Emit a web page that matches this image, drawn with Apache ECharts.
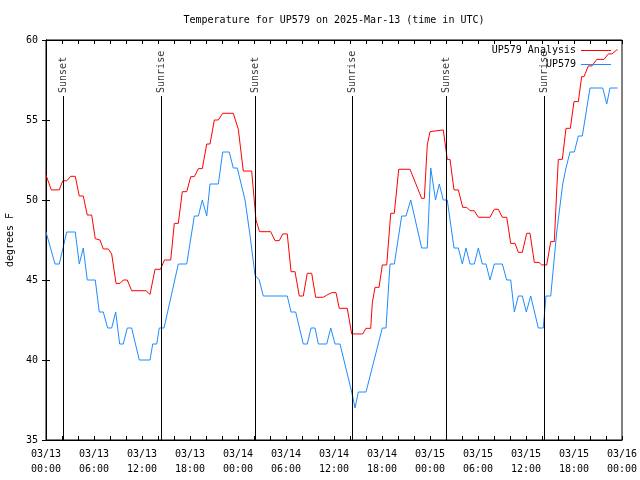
<!DOCTYPE html>
<html><head><meta charset="utf-8">
<script src="https://cdn.jsdelivr.net/npm/echarts@6/dist/echarts.min.js"></script>
<style>html,body{margin:0;padding:0;background:#fff}#c{width:640px;height:480px}</style>
</head><body><div id="c"></div>
<script>
const FONT = '"DejaVu Sans Mono", "Liberation Mono", monospace';

// hours since 2025-03-13 00:00 UTC
const analysisHours = [0,0.66,1.66,2.09,2.59,3.09,3.66,4.16,4.66,5.16,5.71,6.16,6.75,7.16,7.79,8.21,8.75,9.25,9.66,10.16,10.71,12.5,13.0,13.63,14.31,14.81,15.59,16.04,16.54,17.04,17.59,18.09,18.54,19.04,19.54,20.09,20.5,21.04,21.54,22.09,23.41,24.04,24.66,25.71,26.25,26.69,28.09,28.63,29.16,29.59,30.16,30.63,31.13,31.66,32.16,32.66,33.21,33.71,34.66,35.09,35.71,36.25,36.66,37.66,38.21,39.59,40.0,40.59,40.79,41.0,41.13,41.63,42.04,42.59,43.09,43.54,44.09,45.5,46.96,47.29,47.66,48.0,49.66,50.16,50.5,51.0,51.54,52.09,52.59,53.0,53.54,54.04,55.5,56.04,56.54,57.04,57.59,58.09,58.63,59.04,59.54,60.09,60.5,61.04,61.63,61.96,62.59,63.09,63.54,63.84,64.04,64.54,65.0,65.54,66.0,66.54,66.96,67.25,67.79,68.25,68.84,69.75,70.29,70.75,71.34,71.46];
const analysisTemps = [51.56,50.63,50.63,51.2,51.2,51.48,51.48,50.25,50.25,49.06,49.06,47.58,47.5,46.94,46.94,46.63,44.79,44.79,45.0,45.0,44.33,44.33,44.1,45.67,45.67,46.25,46.25,48.54,48.54,50.52,50.52,51.46,51.46,51.96,51.96,53.5,53.5,55.0,55.0,55.42,55.42,54.42,51.81,51.81,48.75,48.02,48.02,47.46,47.46,47.88,47.88,45.52,45.52,44.0,44.0,45.42,45.42,43.92,43.92,44.05,44.21,44.21,43.23,43.23,41.63,41.63,41.98,41.98,43.58,43.58,44.54,44.54,45.94,45.94,49.17,49.17,51.92,51.92,50.1,50.1,53.44,54.27,54.38,52.54,52.54,50.63,50.63,49.54,49.54,49.33,49.33,48.92,48.92,49.42,49.42,48.92,48.92,47.29,47.29,46.73,46.73,47.92,47.92,46.1,46.1,45.94,45.94,47.4,47.4,50.63,52.54,52.54,54.48,54.48,56.15,56.15,57.71,57.71,58.38,58.38,58.79,58.79,59.13,59.13,59.38,59.38];

const obsHours = [0,1.13,1.66,2.59,3.66,4.16,4.66,5.16,6.16,6.66,7.16,7.71,8.21,8.71,9.21,9.66,10.16,10.71,11.66,13.0,13.34,13.84,14.16,14.75,16.54,17.59,18.54,19.04,19.54,20.09,20.5,21.54,22.09,22.91,23.41,23.91,24.88,25.5,26.13,26.66,27.16,30.16,30.63,31.21,32.16,32.66,33.13,33.63,34.04,35.09,35.59,36.13,36.75,38.21,38.63,39.04,40.0,42.04,42.5,43.0,43.54,44.46,45.0,45.59,46.96,47.66,48.09,48.69,49.16,49.66,50.16,51.0,51.54,52.04,52.5,53.0,53.54,54.04,54.54,55.0,55.5,56.04,57.04,57.59,58.09,58.54,59.04,59.54,60.04,60.59,61.54,62.16,62.5,63.09,63.84,64.59,65.0,65.5,66.04,66.54,67.04,68.0,69.59,70.09,70.5,71.46];
const obsTemps = [48,46,46,48,48,46,47,45,45,43,43,42,42,43,41,41,42,42,40,40,41,41,42,42,46,46,49,49,50,49,51,51,53,53,52,52,50,47.8,45.3,45,44,44,43,43,41,41,42,42,41,41,42,41,41,38,37,38,38,42,42,46,46,49,49,50,47,47,52,50,51,50,50,47,47,46,47,46,46,47,46,46,45,46,46,45,45,43,44,44,43,44,42,42,44,44,48,51,52,53,53,54,54,57,57,56,57,57];

const sunsetHours = [2.17, 26.17, 50.0];
const sunriseHours = [14.42, 38.29, 62.29];

function pairs(xs, ys) { return xs.map((x, i) => [x, ys[i]]); }
function timeLabel(v) {
  if (v % 6 !== 0) return '';
  const day = 13 + Math.floor(v / 24);
  const hr = v % 24;
  return '03/' + String(day).padStart(2, '0') + '\n' + String(hr).padStart(2, '0') + ':00';
}
const LABEL_Y = 56.69, LINE_TOP = 56.5;
function eventSeries(name, hours) {
  return {
    name: name, type: 'scatter', symbolSize: 1, silent: true,
    itemStyle: { color: 'transparent' },
    data: hours.map(h => [h, LABEL_Y]),
    label: { show: true, formatter: name, position: 'inside', rotate: 90, align: 'left', verticalAlign: 'middle',
             fontFamily: FONT, fontSize: 10, color: '#000' },
    markLine: { silent: true, symbol: ['none', 'none'], animation: false,
      lineStyle: { color: '#000', width: 1, type: 'solid' }, label: { show: false },
      data: hours.map(h => [{ coord: [h, 35] }, { coord: [h, LINE_TOP] }]) }
  };
}

const chart = echarts.init(document.getElementById('c'));
chart.setOption({
  animation: false,
  backgroundColor: '#fff',
  title: { text: 'Temperature for UP579 on 2025-Mar-13 (time in UTC)', left: 334, top: 15, padding: 0, textAlign: 'center',
           textStyle: { fontFamily: FONT, fontSize: 10, fontWeight: 'normal', color: '#000' } },
  legend: { data: ['UP579 Analysis', 'UP579'], orient: 'vertical', align: 'right', right: 29, top: 45, padding: 0,
            icon: 'rect', itemWidth: 30, itemHeight: 1, itemGap: 3,
            textStyle: { fontFamily: FONT, fontSize: 10, color: '#000', lineHeight: 11 } },
  grid: { left: 46, right: 18, top: 40, bottom: 40, containLabel: false, outerBoundsMode: 'none',
          show: true, borderColor: '#000', borderWidth: 1, backgroundColor: 'transparent' },
  xAxis: [
    { type: 'value', min: 0, max: 72, interval: 2, position: 'bottom',
      axisLine: { show: true, lineStyle: { color: '#000' } },
      axisTick: { show: true, inside: true, length: 4, lineStyle: { color: '#000' } },
      splitLine: { show: false },
      axisLabel: { interval: 0, formatter: timeLabel, fontFamily: FONT, fontSize: 10, color: '#000', lineHeight: 15, margin: 7,
                   showMinLabel: true, showMaxLabel: true } },
    { type: 'value', min: 0, max: 72, interval: 2, position: 'top',
      axisLine: { show: true, lineStyle: { color: '#000' } },
      axisTick: { show: true, inside: true, length: 4, lineStyle: { color: '#000' } },
      splitLine: { show: false }, axisLabel: { show: false } }
  ],
  yAxis: [
    { type: 'value', min: 35, max: 60, interval: 5, position: 'left',
      name: 'degrees F', nameLocation: 'middle', nameGap: 31, nameRotate: 90,
      nameTextStyle: { fontFamily: FONT, fontSize: 10, color: '#000' },
      axisLine: { show: true, lineStyle: { color: '#000' } },
      axisTick: { show: true, inside: true, length: 4, lineStyle: { color: '#000' } },
      splitLine: { show: false },
      axisLabel: { fontFamily: FONT, fontSize: 10, color: '#000', margin: 8 } },
    { type: 'value', min: 35, max: 60, interval: 5, position: 'right',
      axisLine: { show: true, lineStyle: { color: '#000' } },
      axisTick: { show: true, inside: true, length: 4, lineStyle: { color: '#000' } },
      splitLine: { show: false }, axisLabel: { show: false } }
  ],
  series: [
    eventSeries('Sunset', sunsetHours),
    eventSeries('Sunrise', sunriseHours),
    { name: 'UP579 Analysis', type: 'line', data: pairs(analysisHours, analysisTemps), symbol: 'none',
      lineStyle: { color: '#ff0000', width: 1 }, itemStyle: { color: '#ff0000' } },
    { name: 'UP579', type: 'line', data: pairs(obsHours, obsTemps), symbol: 'none',
      lineStyle: { color: '#1e8cff', width: 1 }, itemStyle: { color: '#1e8cff' } }
  ]
});
</script></body></html>
